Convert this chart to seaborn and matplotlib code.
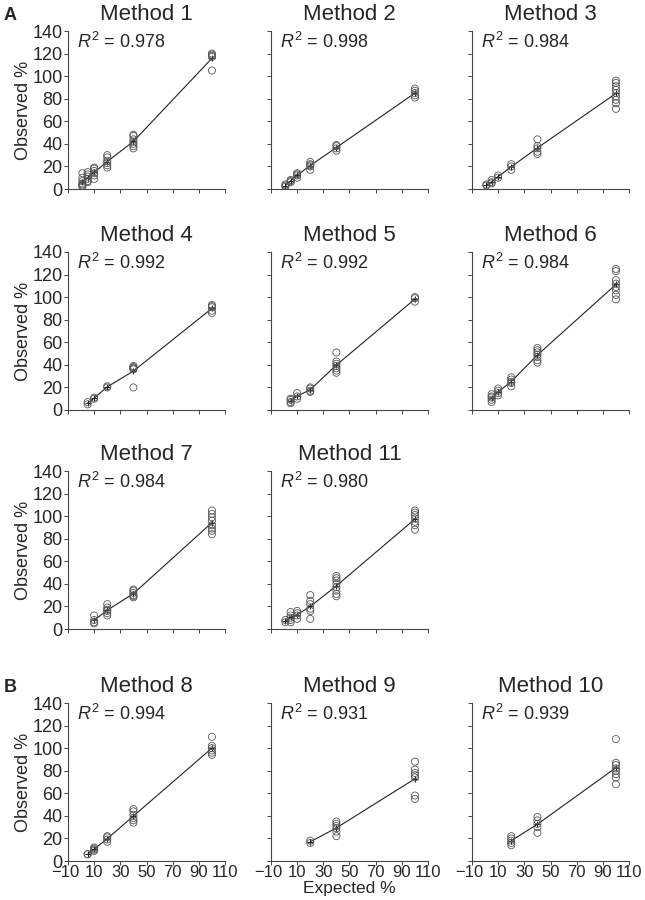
import pandas as pd
import matplotlib.pyplot as plt
import matplotlib.transforms as mtransforms
import seaborn as sns

m1 = {1: [14, 10, 7, 5, 4, 3, 2], 5: [15, 13, 11, 9, 7, 6], 10: [19, 18, 16, 14, 12, 9],
      20: [30, 28, 25, 23, 21, 19], 40: [48, 47, 44, 42, 40, 38, 36], 100: [120, 119, 118, 117, 105]}
m2 = {1: [4, 3, 2], 5: [8, 7, 6], 10: [14, 13, 12, 10], 20: [24, 22, 21, 20, 17],
      40: [39, 38, 36, 34], 100: [89, 87, 85, 83, 81]}
m3 = {1: [4, 3], 5: [8, 6, 5], 10: [12, 10], 20: [22, 20, 17], 40: [44, 38, 36, 33, 31],
      100: [96, 94, 91, 88, 85, 82, 79, 76, 71]}
m4 = {5: [7, 5], 10: [11, 10], 20: [21, 20], 40: [39, 38, 37, 37, 36, 20], 100: [93, 92, 91, 88, 86]}
m5 = {5: [10, 9, 7, 6], 10: [15, 12, 10], 20: [20, 19, 17, 16], 40: [51, 43, 41, 39, 37, 35, 33],
      100: [100, 99, 96]}
m6 = {5: [14, 12, 11, 9, 7], 10: [19, 17, 15, 13], 20: [29, 27, 25, 24, 21],
      40: [55, 53, 51, 49, 47, 44, 42], 100: [125, 123, 115, 112, 109, 106, 102, 98]}
m7 = {10: [12, 8, 6, 5], 20: [22, 19, 17, 16, 14, 12], 40: [35, 34, 32, 30, 29, 28],
      100: [105, 102, 99, 96, 92, 89, 87, 84]}
m11 = {1: [8, 6], 5: [15, 12, 10, 8, 6], 10: [16, 14, 12, 9], 20: [30, 25, 22, 18, 16, 9],
       40: [47, 45, 43, 40, 37, 34, 31, 29], 100: [105, 103, 101, 98, 95, 92, 88]}
m8 = {5: [6, 6], 10: [12, 11, 10, 9], 20: [22, 21, 19, 17], 40: [46, 44, 41, 38, 36, 34],
      100: [110, 102, 100, 98, 96, 94]}
m9 = {20: [18, 16], 40: [35, 33, 31, 29, 26, 22], 100: [88, 81, 78, 76, 74, 58, 55]}
m10 = {20: [22, 20, 18, 16, 14], 40: [39, 36, 33, 30, 25], 100: [108, 87, 85, 82, 80, 77, 74, 68]}

methods = ["Method 1", "Method 2", "Method 3", "Method 4", "Method 5", "Method 6",
           "Method 7", "Method 11", "Method 8", "Method 9", "Method 10"]
r2_values = ["0.978", "0.998", "0.984", "0.992", "0.992", "0.984",
             "0.984", "0.980", "0.994", "0.931", "0.939"]
observed = [m1, m2, m3, m4, m5, m6, m7, m11, m8, m9, m10]
x_ticks = [-10, 10, 30, 50, 70, 90, 110]
y_ticks = [0, 20, 40, 60, 80, 100, 120, 140]

sns.set_style("ticks")
plt.rcParams['font.family'] = ['Liberation Sans', 'DejaVu Sans']
plt.rcParams['mathtext.fontset'] = 'custom'
plt.rcParams['mathtext.rm'] = 'Liberation Sans'
plt.rcParams['mathtext.it'] = 'Liberation Sans:italic'

W, H = 645, 900
fig = plt.figure(figsize=(W / 100, H / 100), dpi=100)

col_left = [68, 271, 472]
row_top = [31, 252, 471, 703]
aw, ah = 157, 158
# grid slot for each panel (row, col)
slots = [(0, 0), (0, 1), (0, 2), (1, 0), (1, 1), (1, 2), (2, 0), (2, 1), (3, 0), (3, 1), (3, 2)]

for name, r2, obs, (r, c) in zip(methods, r2_values, observed, slots):
    rows = [(x, y) for x, ys in obs.items() for y in ys]
    df = pd.DataFrame(rows, columns=["expected", "observed"])
    ax = fig.add_axes([col_left[c] / W, 1 - (row_top[r] + ah) / H, aw / W, ah / H])

    sns.lineplot(data=df, x="expected", y="observed", estimator="mean", errorbar=None,
                 color="#222222", lw=0.8, marker="+", markersize=5,
                 markeredgecolor="#222222", ax=ax)
    sns.scatterplot(data=df, x="expected", y="observed", facecolor="none",
                    edgecolor="#555555", linewidth=0.6, s=26, ax=ax, zorder=3)

    ax.set_xlim(-10, 110)
    ax.set_ylim(0, 140)
    ax.set_xticks(x_ticks)
    ax.set_yticks(y_ticks)
    ax.tick_params(direction="out", length=3, width=0.7, color="#444444",
                   labelsize=13, pad=1)
    ax.tick_params(axis="x", labelsize=12, pad=0)
    for s in ["left", "bottom"]:
        ax.spines[s].set_color("#444444")
        ax.spines[s].set_linewidth(0.8)
    sns.despine(ax=ax)

    if c == 0:
        ax.set_ylabel("Observed %", fontsize=13, labelpad=0)
    else:
        ax.set_ylabel("")
        ax.set_yticklabels([])
    if r == 3:
        labels = ax.set_xticklabels([f"{t}".replace("-", "\u2212") for t in x_ticks])
        # nudge the first label left so it does not run into "10"
        shift = mtransforms.ScaledTranslation(-3 / 100, 0, fig.dpi_scale_trans)
        labels[0].set_transform(labels[0].get_transform() + shift)
    else:
        ax.set_xticklabels([])
    ax.set_xlabel("Expected %" if (r, c) == (3, 1) else "", fontsize=12.5, labelpad=0.5)

    ax.set_title(name, fontsize=16, pad=8)
    ax.text(0.06, 0.93, f"$R^2$ = {r2}", transform=ax.transAxes, fontsize=13,
            va="center", ha="left")

fig.text(4 / W, 1 - 16 / H, "A", fontsize=13, fontweight="bold", va="center")
fig.text(4 / W, 1 - 688 / H, "B", fontsize=13, fontweight="bold", va="center")

fig.savefig("out.png", dpi=100)
plt.close(fig)
